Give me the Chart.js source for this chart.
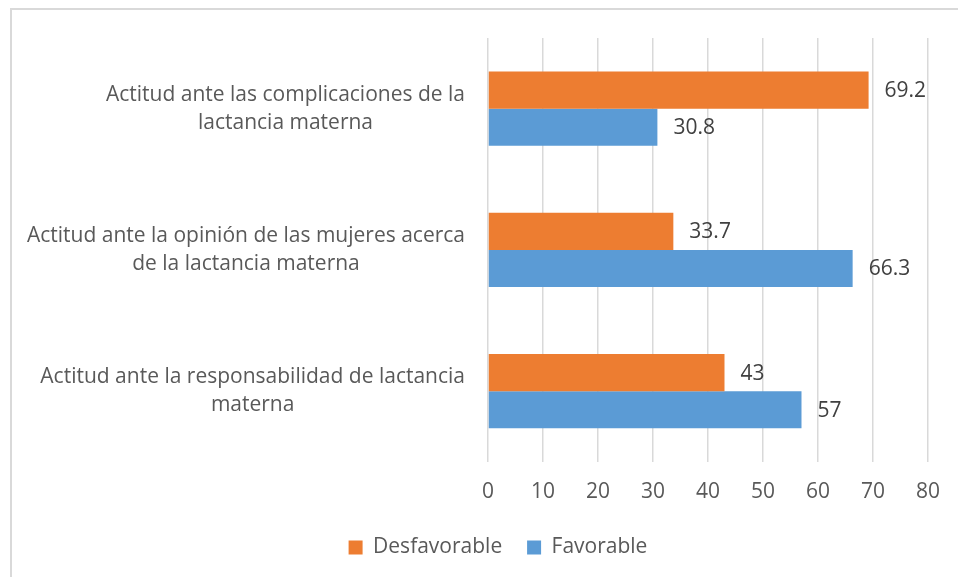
<!DOCTYPE html>
<html>
<head>
<meta charset="utf-8">
<script src="https://cdn.jsdelivr.net/npm/chart.js@4"></script>
<style>
  html, body { margin: 0; padding: 0; background: #fff; overflow: hidden; }
  #frame { position: absolute; left: 10px; top: 8px; width: 1000px; height: 600px; border-top: 2px solid #d9d9d9; border-left: 2px solid #d9d9d9; }
  #wrap { position: absolute; left: 0; top: 0; width: 958px; height: 590px; }
</style>
</head>
<body>
<div id="frame"></div>
<div id="wrap"><canvas id="chart"></canvas></div>
<script>
const categories = [
    ['Actitud ante las complicaciones de la', 'lactancia materna'],
    ['Actitud ante la opinión de las mujeres acerca', 'de la lactancia materna'],
    ['Actitud ante la responsabilidad de lactancia', 'materna']
];
const desfavorable = [69.2, 33.7, 43];
const favorable = [30.8, 66.3, 57];
const xMax = 80;
const xStep = 10;

const FONT = '"Open Sans", Lato, sans-serif';
const FONT_SIZE = 21;

// category labels: each block centred on its own longest line, block right-aligned
const categoryLabels = {
    id: 'categoryLabels',
    afterDraw(chart) {
        const ctx = chart.ctx;
        const yScale = chart.scales.y;
        const right = chart.chartArea.left - 23;
        const lineH = 28;
        ctx.save();
        ctx.font = `${FONT_SIZE}px ${FONT}`;
        ctx.fillStyle = '#595959';
        ctx.textAlign = 'center';
        ctx.textBaseline = 'middle';
        categories.forEach((lines, i) => {
            const w = Math.max(...lines.map(l => ctx.measureText(l).width));
            const cx = right - w / 2;
            const cy = yScale.getPixelForValue(i);
            const top = cy - (lines.length - 1) * lineH / 2;
            lines.forEach((l, j) => ctx.fillText(l, cx, top + j * lineH));
        });
        ctx.restore();
    }
};

// value labels at the end of each bar
const valueLabels = {
    id: 'valueLabels',
    afterDatasetsDraw(chart) {
        const ctx = chart.ctx;
        ctx.save();
        ctx.font = `${FONT_SIZE}px ${FONT}`;
        ctx.fillStyle = '#404040';
        ctx.textAlign = 'left';
        ctx.textBaseline = 'middle';
        chart.data.datasets.forEach((ds, di) => {
            chart.getDatasetMeta(di).data.forEach((bar, i) => {
                ctx.fillText(String(ds.data[i]), bar.x + 16, bar.y + 1);
            });
        });
        ctx.restore();
    }
};

new Chart(document.getElementById('chart'), {
    type: 'bar',
    data: {
        labels: categories,
        datasets: [
            { label: 'Desfavorable', data: desfavorable, backgroundColor: '#ed7d31' },
            { label: 'Favorable', data: favorable, backgroundColor: '#5b9bd5' }
        ]
    },
    options: {
        indexAxis: 'y',
        responsive: true,
        maintainAspectRatio: false,
        animation: false,
        datasets: { bar: { categoryPercentage: 0.525, barPercentage: 1 } },
        layout: { padding: { left: 50, right: 12, top: 38, bottom: 22 } },
        scales: {
            x: {
                min: 0,
                max: xMax,
                ticks: { stepSize: xStep, padding: 18, color: '#595959', font: { family: FONT, size: FONT_SIZE } },
                grid: { color: '#d9d9d9', lineWidth: 1.5, drawTicks: false },
                border: { display: false }
            },
            y: {
                ticks: { display: false },
                grid: { display: false },
                border: { display: false },
                afterFit(scale) { scale.width = 438; }
            }
        },
        plugins: {
            legend: {
                position: 'bottom',
                labels: {
                    boxWidth: 14,
                    boxHeight: 14,
                    padding: 14,
                    color: '#595959',
                    font: { family: FONT, size: FONT_SIZE },
                    // widen the gap after the first item (padding also sets the vertical spacing)
                    generateLabels(chart) {
                        const items = Chart.defaults.plugins.legend.labels.generateLabels(chart);
                        items[0].text += '  ';
                        return items;
                    }
                }
            },
            tooltip: { enabled: false }
        }
    },
    plugins: [categoryLabels, valueLabels]
});
</script>
</body>
</html>
